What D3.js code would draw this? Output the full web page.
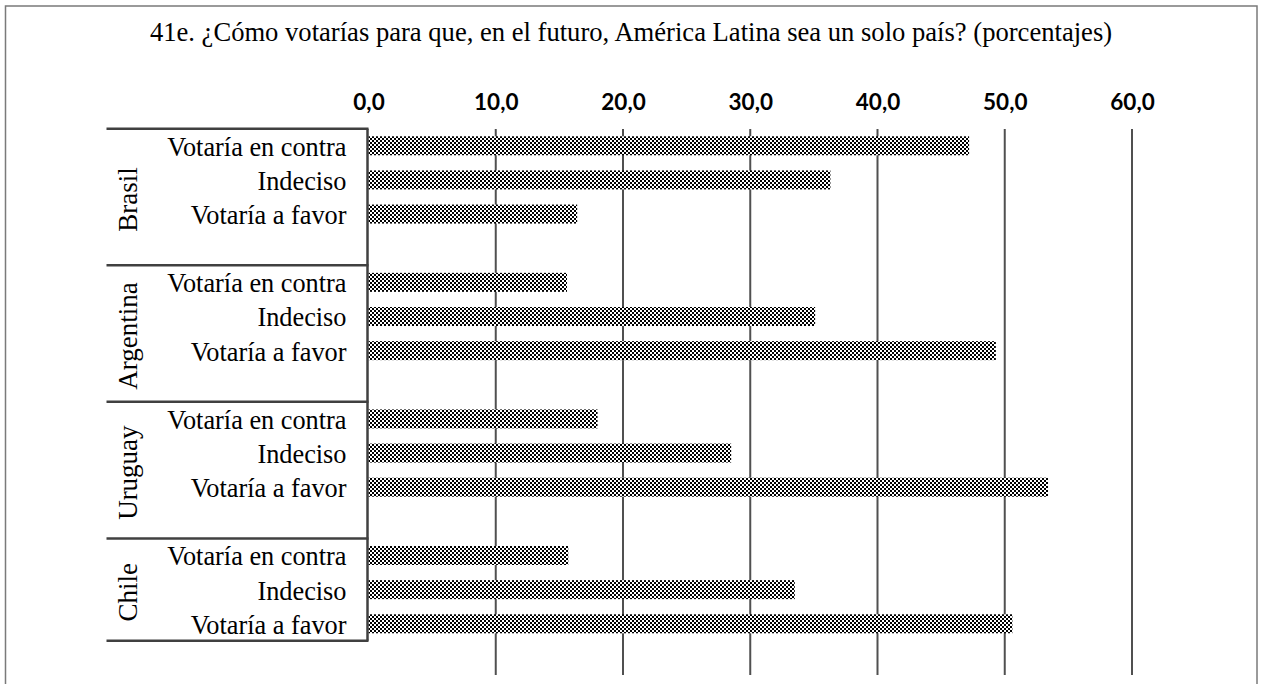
<!DOCTYPE html>
<html>
<head>
<meta charset="utf-8">
<script src="https://cdn.jsdelivr.net/npm/d3@7"></script>
<style>
  html, body { margin: 0; padding: 0; background: #fff; }
  svg { display: block; }
</style>
</head>
<body>
<svg id="chart" width="1268" height="684"></svg>
<script>
// ---- data ----
const title = "41e. ¿Cómo votarías para que, en el futuro, América Latina sea un solo país? (porcentajes)";
const groups = ["Brasil", "Argentina", "Uruguay", "Chile"];
const responses = ["Votaría en contra", "Indeciso", "Votaría a favor"];
const enContra = [47.2, 15.6, 18.0, 15.7];
const indeciso = [36.3, 35.1, 28.5, 33.5];
const aFavor   = [16.4, 49.3, 53.4, 50.6];
const tickValues = [0, 10, 20, 30, 40, 50, 60];
const tickLabels = ["0,0", "10,0", "20,0", "30,0", "40,0", "50,0", "60,0"];

// build rows (each group: 3 responses + 1 blank slot)
const seriesByResponse = [enContra, indeciso, aFavor];
const slots = [];
const rows = [];
groups.forEach((g, gi) => {
  responses.forEach((r, ri) => {
    const key = g + "|" + r;
    slots.push(key);
    rows.push({ group: g, response: r, key, value: seriesByResponse[ri][gi] });
  });
  slots.push(g + "|blank");
});

const svg = d3.select("#chart");

// pattern (small checker board)
const defs = svg.append("defs");
const pat = defs.append("pattern")
  .attr("id", "checker").attr("patternUnits", "userSpaceOnUse")
  .attr("width", 4).attr("height", 4);
pat.append("rect").attr("width", 4).attr("height", 4).attr("fill", "#fff");
pat.append("rect").attr("x", 0).attr("y", 0).attr("width", 2).attr("height", 2).attr("fill", "#000");
pat.append("rect").attr("x", 2).attr("y", 2).attr("width", 2).attr("height", 2).attr("fill", "#000");

// outer border
svg.append("rect")
  .attr("x", 5.5).attr("y", 6).attr("width", 1251.5).attr("height", 700)
  .attr("fill", "none").attr("stroke", "#7a7a7a").attr("stroke-width", 1.5);

const serif = "'Liberation Serif', 'Times New Roman', serif";

// title
svg.append("text")
  .attr("x", 631).attr("y", 41)
  .attr("text-anchor", "middle")
  .attr("font-family", serif)
  .attr("font-size", 26.6)
  .attr("fill", "#000")
  .text(title);

// scales
const x = d3.scaleLinear().domain([0, 60]).range([368.5, 1132]);
const y = d3.scaleBand().domain(slots).range([128.7, 675]).padding(0);
const barH = 19;

// gridlines
svg.append("g").selectAll("line")
  .data(tickValues.filter(v => v > 0))
  .join("line")
  .attr("x1", d => x(d)).attr("x2", d => x(d))
  .attr("y1", 129).attr("y2", 675)
  .attr("stroke", "#505050").attr("stroke-width", 2);

// top axis labels
const axis = d3.axisTop(x).tickValues(tickValues)
  .tickFormat((d, i) => tickLabels[i]).tickSize(0).tickPadding(0);
const ag = svg.append("g").attr("transform", "translate(0,110)").call(axis);
ag.select(".domain").remove();
ag.selectAll("text")
  .attr("font-family", "Lato, 'Liberation Sans', Arial, sans-serif")
  .attr("font-weight", "bold")
  .attr("font-size", 22.5)
  .attr("fill", "#000")
  .attr("dy", 0);

// bars
svg.append("g").selectAll("rect")
  .data(rows)
  .join("rect")
  .attr("x", x(0))
  .attr("y", d => y(d.key) + (y.bandwidth() - barH) / 2)
  .attr("width", d => x(d.value) - x(0))
  .attr("height", barH)
  .attr("fill", "url(#checker)");

// category axis (vertical line)
const lastY = y(groups[groups.length - 1] + "|" + responses[2]) + y.bandwidth();
svg.append("line")
  .attr("x1", 367.5).attr("x2", 367.5)
  .attr("y1", 128.7).attr("y2", lastY)
  .attr("stroke", "#404040").attr("stroke-width", 2.5);

// group separators
const sepYs = groups.map(g => y(g + "|" + responses[0]));
sepYs.push(lastY);
svg.append("g").selectAll("line")
  .data(sepYs)
  .join("line")
  .attr("x1", 106.5).attr("x2", 368.5)
  .attr("y1", d => d).attr("y2", d => d)
  .attr("stroke", "#404040").attr("stroke-width", 2.5);

// response labels
svg.append("g").selectAll("text")
  .data(rows)
  .join("text")
  .attr("x", 346.5)
  .attr("y", d => y(d.key) + y.bandwidth() / 2 + 10)
  .attr("text-anchor", "end")
  .attr("font-family", serif)
  .attr("font-size", 26.3)
  .attr("fill", "#000")
  .text(d => d.response);

// group labels (rotated, centred in their boxes)
svg.append("g").selectAll("text")
  .data(groups)
  .join("text")
  .attr("transform", (g, i) => {
    const cy = (sepYs[i] + sepYs[i + 1]) / 2 + 2.5;
    return `translate(137,${cy}) rotate(-90)`;
  })
  .attr("text-anchor", "middle")
  .attr("font-family", serif)
  .attr("font-size", 27)
  .attr("fill", "#000")
  .text(d => d);
</script>
</body>
</html>
